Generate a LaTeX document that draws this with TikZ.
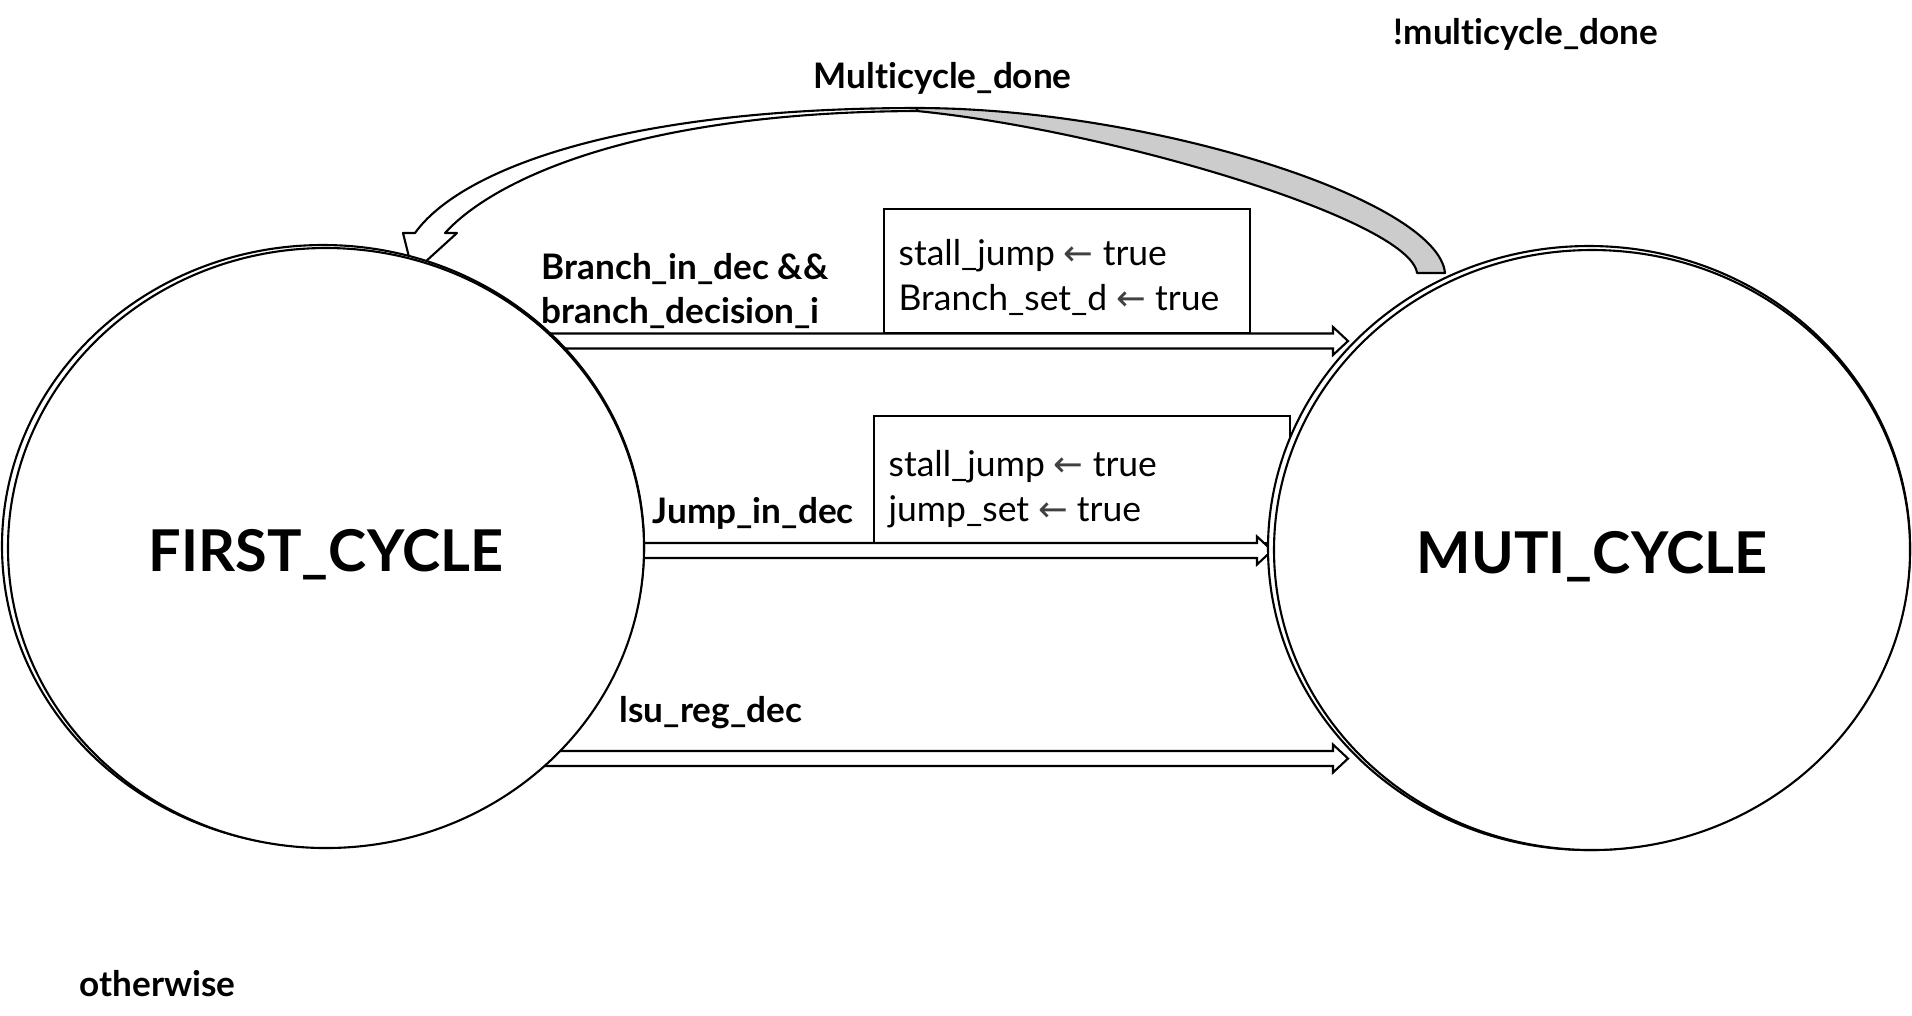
\documentclass[tikz,border=0pt]{standalone}
\usepackage{fontspec}
\setmainfont{Lato}[Ligatures={NoCommon}]
\newfontfamily\arrowfont{DejaVu Sans}
\usepackage{xcolor}
\usepackage{tikz}
\usetikzlibrary{positioning,calc,shapes.geometric}
\definecolor{ribbongray}{RGB}{204,204,204}
\definecolor{arrowgray}{RGB}{64,64,64}
\pgfdeclarelayer{back}
\pgfdeclarelayer{ghost}
\pgfsetlayers{back,ghost,main}
\newcommand{\larr}{{\arrowfont\color{arrowgray}←}}
\newcommand{\hollowarrow}[2]{%
	\draw[block_arrow] ($(#1)+(0,0.075)$) -- ($(#2)+(-0.15,0.075)$) -- ($(#2)+(-0.15,0.14)$)
	-- (#2) -- ($(#2)+(-0.15,-0.14)$) -- ($(#2)+(-0.15,-0.075)$) -- ($(#1)+(0,-0.075)$) -- cycle;}

\begin{document}
\begin{tikzpicture}[
	state/.style={
		ellipse, draw, fill=white, line width=0.6pt,
		inner sep=0pt, minimum width=6.36cm, minimum height=6cm,
		font=\bfseries\fontsize{16.4}{20}\selectfont
	},
	% Vien phu lech nhe cua moi trang thai
	ghost_ring/.style={draw, fill=white, line width=0.6pt},
	cond_label/.style={
		anchor=west, inner sep=0pt, align=left,
		font=\bfseries\fontsize{10}{12.8}\selectfont
	},
	act_box/.style={draw, line width=0.6pt, inner sep=0pt},
	act_text/.style={
		anchor=west, inner sep=0pt, align=left,
		font=\fontsize{10.1}{12.8}\selectfont
	},
	block_arrow/.style={draw, fill=white, line width=0.6pt},
	ribbon/.style={draw, line width=0.6pt, line join=round}
	]
	\useasboundingbox (0,0) rectangle (19.12,-10.15);
	
	% Hai trang thai
	\node[state] (first) at (3.26,-5.48) {\raisebox{-1.8pt}[\height][\depth]{FIRST\_CYCLE}};
	\node[state] (muti) at (15.92,-5.50) {\raisebox{-1.8pt}[\height][\depth]{MUTI\_CYCLE}};
	
	\begin{pgfonlayer}{ghost}
		\draw[ghost_ring] ($(first.center)+(-0.03,0.02)$) ellipse [x radius=3.21, y radius=3.01];
		\draw[ghost_ring] ($(muti.center)+(-0.03,0.02)$) ellipse [x radius=3.21, y radius=3.02];
	\end{pgfonlayer}
	
	\begin{pgfonlayer}{back}
		% Diem dau/cuoi cua cac mui ten
		\coordinate (br_s) at (5.20,-3.41);
		\coordinate (br_e) at (13.48,-3.41);
		\coordinate (jp_s) at (6.20,-5.505);
		\coordinate (jp_e) at (12.72,-5.505);
		\coordinate (ls_s) at (5.20,-7.585);
		\coordinate (ls_e) at (13.48,-7.585);
		
		% Hop hanh dong
		\node[act_box, minimum width=3.66cm, minimum height=1.24cm] (act1) at (10.67,-2.71) {};
		\node[act_box, minimum width=4.16cm, minimum height=1.27cm] (act2) at (10.82,-4.795) {};
		
		\hollowarrow{br_s}{br_e}
		\hollowarrow{jp_s}{jp_e}
		\hollowarrow{ls_s}{ls_e}
		
		% Mui ten cong quay ve FIRST_CYCLE
		\coordinate (rb_out) at (14.45,-2.73);
		\coordinate (rb_in) at (14.17,-2.73);
		\coordinate (top_out) at (9.17,-1.08);
		\coordinate (top_in) at (9.17,-1.11);
		\coordinate (hd_out) at (4.15,-2.33);
		\coordinate (hd_in) at (4.45,-2.33);
		\coordinate (hd_tip) at (4.13,-2.73);
		\draw[ribbon, fill=ribbongray] (top_out) .. controls (11.50,-1.08) and (14.38,-2.00) .. (rb_out)
		-- (rb_in) .. controls (14.10,-2.20) and (11.10,-1.30) .. (top_in) -- cycle;
		\draw[ribbon, fill=white] (hd_out) .. controls (4.60,-1.70) and (6.20,-1.08) .. (top_out)
		-- (top_in) .. controls (6.40,-1.12) and (4.95,-1.78) .. (hd_in)
		-- ++(0.12,0) -- (hd_tip) -- ($(hd_out)+(-0.12,0)$) -- cycle;
	\end{pgfonlayer}
	
	% Noi dung trong hop
	\node[act_text] (act1txt) at ($(act1.west)+(0.15,-0.06)$)
	{stall\_jump \larr{} true\\Branch\_set\_d \larr{} true};
	\node[act_text] (act2txt) at ($(act2.west)+(0.15,-0.10)$)
	{stall\_jump \larr{} true\\jump\_set \larr{} true};
	
	% Nhan dieu kien
	\node[cond_label] (notdone) at (13.93,-0.34) {!multicycle\_done};
	\node[cond_label] (done) at (8.13,-0.78) {Multicycle\_done};
	\node[cond_label] (brcond) at (5.41,-2.91) {Branch\_in\_dec \&\&\\branch\_decision\_i};
	\node[cond_label] (jpcond) at (6.52,-5.135) {Jump\_in\_dec};
	\node[cond_label] (lscond) at (6.19,-7.125) {lsu\_reg\_dec};
	\node[cond_label] (other) at (0.79,-9.84) {otherwise};
	
\end{tikzpicture}
\end{document}
